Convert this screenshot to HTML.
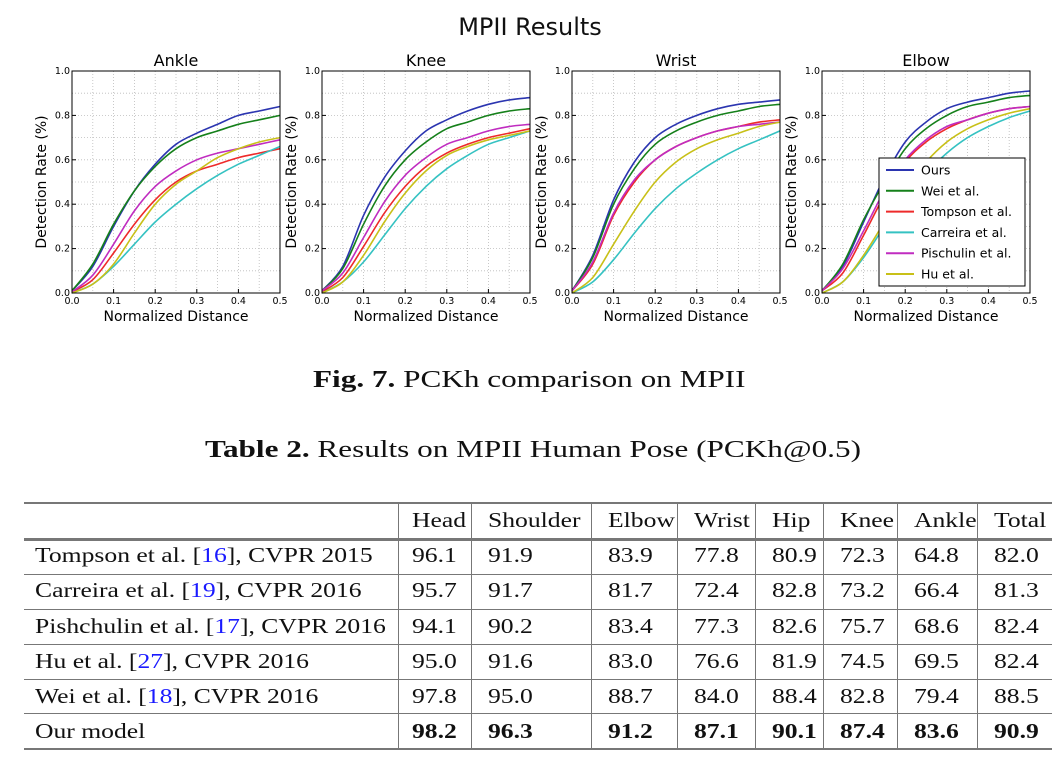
<!DOCTYPE html>
<html><head><meta charset="utf-8">
<style>
body{margin:0;background:#fff;width:1060px;height:758px;overflow:hidden;position:relative;font-family:"Liberation Serif",serif}
.abs{position:absolute}
.cell{position:absolute;font-size:21px;color:#111;white-space:nowrap;line-height:20px;transform:scaleX(1.22);transform-origin:0 0}
.hl{position:absolute;background:#777;height:1px}
.vl{position:absolute;background:#777;width:1px}
.ref{color:#1a1aff}
.cap{position:absolute;white-space:nowrap;font-size:24px;transform:scaleX(1.3);transform-origin:0 0;color:#111}
</style></head><body>
<svg id="charts" class="abs" style="left:0;top:0" width="1060" height="340"></svg>
<div class="cap" style="left:313px;top:367px"><b>Fig. 7.</b> PCKh comparison on MPII</div>
<div class="cap" style="left:205px;top:437px"><b>Table 2.</b> Results on MPII Human Pose (PCKh@0.5)</div>
<div id="table"></div>
<script>
const xs=[0,0.05,0.1,0.15,0.2,0.25,0.3,0.35,0.4,0.45,0.5];
const joints=["Ankle","Knee","Wrist","Elbow"];
const seriesNames=["Ours","Wei et al.","Tompson et al.","Carreira et al.","Pischulin et al.","Hu et al."];
const colors=["#2b35b0","#15801a","#ee2a2a","#35c2c2","#c02cc0","#c8c018"];
const ankleOurs=[0.01,0.12,0.30,0.46,0.58,0.67,0.72,0.76,0.80,0.82,0.84];
const ankleWei=[0.01,0.13,0.31,0.46,0.57,0.65,0.70,0.73,0.76,0.78,0.80];
const ankleTompson=[0.005,0.06,0.18,0.31,0.42,0.50,0.55,0.58,0.61,0.63,0.65];
const ankleCarreira=[0,0.04,0.12,0.22,0.32,0.40,0.47,0.53,0.58,0.62,0.66];
const anklePischulin=[0.005,0.08,0.22,0.37,0.48,0.55,0.60,0.63,0.65,0.67,0.69];
const ankleHu=[0,0.04,0.13,0.27,0.40,0.49,0.55,0.61,0.65,0.68,0.70];
const kneeOurs=[0.01,0.12,0.35,0.52,0.64,0.73,0.78,0.82,0.85,0.87,0.88];
const kneeWei=[0.01,0.11,0.31,0.48,0.60,0.68,0.74,0.77,0.80,0.82,0.83];
const kneeTompson=[0.005,0.07,0.21,0.36,0.48,0.57,0.63,0.67,0.70,0.72,0.74];
const kneeCarreira=[0,0.05,0.14,0.26,0.38,0.48,0.56,0.62,0.67,0.70,0.73];
const kneePischulin=[0.01,0.09,0.25,0.41,0.53,0.61,0.67,0.70,0.73,0.75,0.76];
const kneeHu=[0,0.05,0.17,0.32,0.45,0.55,0.62,0.66,0.69,0.71,0.73];
const wristOurs=[0.01,0.17,0.42,0.59,0.70,0.76,0.80,0.83,0.85,0.86,0.87];
const wristWei=[0.01,0.16,0.40,0.56,0.67,0.73,0.77,0.80,0.82,0.84,0.85];
const wristTompson=[0.01,0.13,0.35,0.50,0.60,0.66,0.70,0.73,0.75,0.77,0.78];
const wristCarreira=[0,0.05,0.15,0.27,0.38,0.47,0.54,0.60,0.65,0.69,0.73];
const wristPischulin=[0.01,0.14,0.36,0.51,0.60,0.66,0.70,0.73,0.75,0.76,0.77];
const wristHu=[0,0.07,0.22,0.37,0.50,0.59,0.65,0.69,0.72,0.75,0.77];
const elbowOurs=[0.01,0.12,0.32,0.52,0.68,0.77,0.83,0.86,0.88,0.90,0.91];
const elbowWei=[0.01,0.13,0.33,0.50,0.65,0.74,0.80,0.84,0.86,0.88,0.89];
const elbowTompson=[0.01,0.09,0.26,0.44,0.59,0.68,0.74,0.78,0.81,0.83,0.84];
const elbowCarreira=[0,0.05,0.16,0.30,0.43,0.54,0.63,0.70,0.75,0.79,0.82];
const elbowPischulin=[0.01,0.11,0.28,0.46,0.60,0.69,0.75,0.78,0.81,0.83,0.84];
const elbowHu=[0,0.05,0.17,0.32,0.47,0.59,0.68,0.74,0.78,0.81,0.83];
const data=[
 [ankleOurs,ankleWei,ankleTompson,ankleCarreira,anklePischulin,ankleHu],
 [kneeOurs,kneeWei,kneeTompson,kneeCarreira,kneePischulin,kneeHu],
 [wristOurs,wristWei,wristTompson,wristCarreira,wristPischulin,wristHu],
 [elbowOurs,elbowWei,elbowTompson,elbowCarreira,elbowPischulin,elbowHu]];
const xTicks=["0.0","0.1","0.2","0.3","0.4","0.5"];
const yTicks=["0.0","0.2","0.4","0.6","0.8","1.0"];

const NS="http://www.w3.org/2000/svg";
const svg=document.getElementById('charts');
function mk(tag,attrs,parent,text){const e=document.createElementNS(NS,tag);for(const k in attrs)e.setAttribute(k,attrs[k]);if(text!==undefined)e.textContent=text;(parent||svg).appendChild(e);return e;}
function smooth(pts){let d='M'+pts[0][0].toFixed(1)+','+pts[0][1].toFixed(1);
  for(let i=0;i<pts.length-1;i++){const p0=pts[i-1]||pts[i],p1=pts[i],p2=pts[i+1],p3=pts[i+2]||p2;
    const c1=[p1[0]+(p2[0]-p0[0])/6,p1[1]+(p2[1]-p0[1])/6],c2=[p2[0]-(p3[0]-p1[0])/6,p2[1]-(p3[1]-p1[1])/6];
    d+=` C${c1[0].toFixed(1)},${c1[1].toFixed(1)} ${c2[0].toFixed(1)},${c2[1].toFixed(1)} ${p2[0].toFixed(1)},${p2[1].toFixed(1)}`;}
  return d;}
const t=mk('text',{x:530,y:35,'text-anchor':'middle','font-size':24,'font-family':'DejaVu Sans, sans-serif',fill:'#111'},svg,'MPII Results');


const PT=71,PB=293,PW=208;
joints.forEach((j,ji)=>{
  const L=72+ji*250;
  const xS=v=>L+v/0.5*PW;
  const yS=v=>PB-v*(PB-PT);
  const g=mk('g',{});
  
  
  for(let i=1;i<10;i++){
    const v=i*0.05;
    mk('line',{x1:xS(v),x2:xS(v),y1:PT,y2:PB,stroke:'#bbb','stroke-width':0.8,'stroke-dasharray':'1,2'},g);
    const w=i*0.1;
    mk('line',{x1:L,x2:L+PW,y1:yS(w),y2:yS(w),stroke:'#bbb','stroke-width':0.8,'stroke-dasharray':'1,2'},g);
  }
  data[ji].forEach((ser,si)=>{
    const pts=ser.map((v,k)=>[xS(xs[k]),yS(v)]);
    const p=mk('path',{d:smooth(pts),fill:'none',stroke:colors[si],'stroke-width':1.6,'stroke-linejoin':'round'},g);
    
    
  });
  mk('rect',{x:L,y:PT,width:PW,height:PB-PT,fill:'none',stroke:'#000','stroke-width':1},g);
  xTicks.forEach(s=>{const v=parseFloat(s);
    mk('line',{x1:xS(v),x2:xS(v),y1:PB,y2:PB-4,stroke:'#000'},g);
    mk('text',{x:xS(v),y:PB+11,'text-anchor':'middle','font-size':9.5,'font-family':'DejaVu Sans, sans-serif'},g,s);});
  yTicks.forEach(s=>{const v=parseFloat(s);
    mk('line',{x1:L,x2:L+4,y1:yS(v),y2:yS(v),stroke:'#000'},g);
    mk('text',{x:L-2,y:yS(v)+3,'text-anchor':'end','font-size':9.5,'font-family':'DejaVu Sans, sans-serif'},g,s);});
  mk('text',{x:L+PW/2,y:66,'text-anchor':'middle','font-size':16,'font-family':'DejaVu Sans, sans-serif'},g,j);
  mk('text',{x:L+PW/2,y:321,'text-anchor':'middle','font-size':14,'font-family':'DejaVu Sans, sans-serif'},g,'Normalized Distance');
  mk('text',{x:0,y:0,transform:`translate(${L-26},${(PT+PB)/2}) rotate(-90)`,'text-anchor':'middle','font-size':14,'font-family':'DejaVu Sans, sans-serif'},g,'Detection Rate (%)');
});
const lg=mk('g',{});


mk('rect',{x:879,y:158,width:146,height:128,fill:'#fff',stroke:'#000','stroke-width':1},lg);
seriesNames.forEach((n,i)=>{const y=170+i*20.8;
  mk('line',{x1:886,x2:914,y1:y,y2:y,stroke:colors[i],'stroke-width':2},lg);
  mk('text',{x:921,y:y+4.5,'font-size':12.5,'font-family':'DejaVu Sans, sans-serif'},lg,n);});

const cols=[24,398,471,591,677,755,823,897,977,1052];
const rowsY=[503,539,574,609,644,679,713,748];
const header=["","Head","Shoulder","Elbow","Wrist","Hip","Knee","Ankle","Total"];
const rows=[
 ["Tompson et al. [<span class='ref'>16</span>], CVPR 2015","96.1","91.9","83.9","77.8","80.9","72.3","64.8","82.0"],
 ["Carreira et al. [<span class='ref'>19</span>], CVPR 2016","95.7","91.7","81.7","72.4","82.8","73.2","66.4","81.3"],
 ["Pishchulin et al. [<span class='ref'>17</span>], CVPR 2016","94.1","90.2","83.4","77.3","82.6","75.7","68.6","82.4"],
 ["Hu et al. [<span class='ref'>27</span>], CVPR 2016","95.0","91.6","83.0","76.6","81.9","74.5","69.5","82.4"],
 ["Wei et al. [<span class='ref'>18</span>], CVPR 2016","97.8","95.0","88.7","84.0","88.4","82.8","79.4","88.5"],
 ["Our model","<b>98.2</b>","<b>96.3</b>","<b>91.2</b>","<b>87.1</b>","<b>90.1</b>","<b>87.4</b>","<b>83.6</b>","<b>90.9</b>"]];
const tb=document.getElementById('table');
let h='';
h+=`<div class="hl" style="left:24px;width:1028px;top:502px;height:2px"></div>`;
h+=`<div class="hl" style="left:24px;width:1028px;top:538px;height:3px"></div>`;
[574,609,644,679,713].forEach(y=>h+=`<div class="hl" style="left:24px;width:1028px;top:${y}px"></div>`);
h+=`<div class="hl" style="left:24px;width:1028px;top:748px;height:2px"></div>`;
cols.slice(1,9).forEach(x=>h+=`<div class="vl" style="left:${x}px;top:503px;height:246px"></div>`);
tb.innerHTML=h;
function cell(txt,x,y,name){const d=document.createElement('div');d.className='cell';d.style.left=x+'px';d.style.top=y+'px';d.innerHTML=txt;
  
  
  tb.appendChild(d);}
header.forEach((s,i)=>{if(s)cell(s,cols[i]+17-(i==1?3:0),510,'header-'+s.toLowerCase());});
rows.forEach((r,ri)=>{r.forEach((s,ci)=>{cell(s,ci==0?35:cols[ci]+17-(ci==1?3:0),rowsY[ri+1]+6+ri*0.3,'cell-r'+ri+'-c'+ci);});});
</script>
</body></html>
